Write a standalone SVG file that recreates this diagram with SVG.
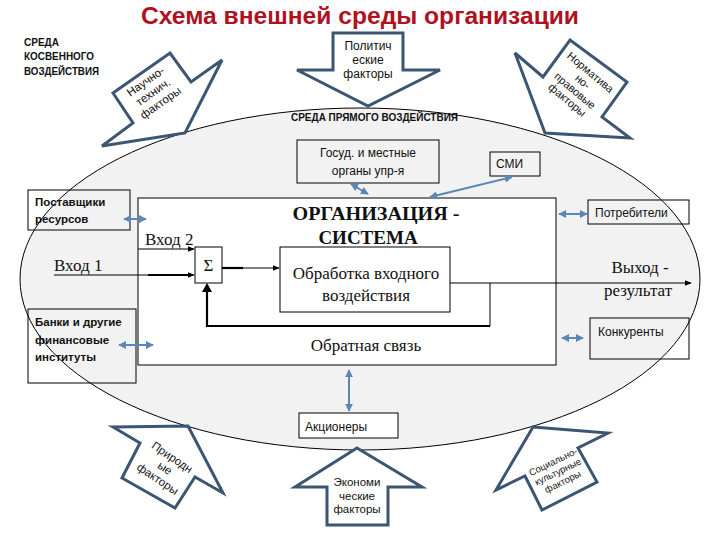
<svg xmlns="http://www.w3.org/2000/svg" width="720" height="540" viewBox="0 0 720 540">
<defs>
<style>
.blk{fill:#fff;stroke:#3b5573;stroke-width:3;stroke-linejoin:miter}
.sans{font-family:"Liberation Sans",Arial,sans-serif;fill:#111}
.bold{font-weight:bold}
.serif{font-family:"Liberation Serif","Times New Roman",serif;fill:#111}
.box{fill:none;stroke:#000;stroke-width:1}
.con{stroke:#5b86b8;stroke-width:2;fill:none;marker-start:url(#ah);marker-end:url(#ah)}
.ln{stroke:#000;stroke-width:1;fill:none}
.thk{stroke:#000;stroke-width:2.2;fill:none}
</style>
<marker id="ah" viewBox="0 0 10 10" refX="9" refY="5" markerWidth="4" markerHeight="4" orient="auto-start-reverse" markerUnits="strokeWidth">
<path d="M0,0 L10,5 L0,10 z" fill="#5b86b8"/>
</marker>
<marker id="bk" viewBox="0 0 10 10" refX="9" refY="5" markerWidth="7" markerHeight="7" orient="auto" markerUnits="userSpaceOnUse">
<path d="M0,1 L10,5 L0,9 z" fill="#000"/>
</marker>
</defs>
<rect width="720" height="540" fill="#fff"/>

<!-- environment ellipse fill -->
<ellipse id="env-fill" cx="360" cy="279" rx="340" ry="171" fill="#f2f2f2"/>

<text x="360" y="24" text-anchor="middle" font-family="Liberation Sans,Arial,sans-serif" font-size="24" font-weight="bold" fill="#b0111f" textLength="438" lengthAdjust="spacingAndGlyphs">Схема внешней среды организации</text>

<g id="indirect-label" class="sans bold" font-size="10">
<text x="24" y="46" textLength="35" lengthAdjust="spacingAndGlyphs">СРЕДА</text>
<text x="24" y="60" textLength="70" lengthAdjust="spacingAndGlyphs">КОСВЕННОГО</text>
<text x="24" y="75" textLength="75" lengthAdjust="spacingAndGlyphs">ВОЗДЕЙСТВИЯ</text>
</g>
<text id="direct-label" class="sans bold" x="291" y="121" font-size="10" textLength="167" lengthAdjust="spacingAndGlyphs">СРЕДА ПРЯМОГО ВОЗДЕЙСТВИЯ</text>

<!-- organization -->
<g id="organization">
<rect x="138" y="198" width="418" height="167" fill="#fff" stroke="#000"/>
<text class="serif bold" x="376" y="220" font-size="19" text-anchor="middle" textLength="167" lengthAdjust="spacingAndGlyphs">ОРГАНИЗАЦИЯ -</text>
<text class="serif bold" x="368" y="244" font-size="19" text-anchor="middle">СИСТЕМА</text>
</g>
<g id="sigma">
<rect x="195" y="247" width="27" height="36" fill="#fff" stroke="#000"/>
<text class="serif" x="208.5" y="271" font-size="17" text-anchor="middle">Σ</text>
</g>
<g id="processing">
<rect x="280" y="247" width="170" height="65" fill="#fff" stroke="#000"/>
<text class="serif" x="366" y="279" font-size="17" text-anchor="middle">Обработка входного</text>
<text class="serif" x="366" y="301" font-size="17" text-anchor="middle">воздействия</text>
</g>
<text id="in2" class="serif" x="145" y="245" font-size="17">Вход 2</text>
<text id="in1" class="serif" x="54" y="271" font-size="17">Вход 1</text>
<text id="feedback" class="serif" x="366" y="351" font-size="17" text-anchor="middle">Обратная связь</text>
<g id="output">
<text class="serif" x="640" y="273" font-size="17" text-anchor="middle">Выход -</text>
<text class="serif" x="638" y="296" font-size="17" text-anchor="middle">результат</text>
</g>

<!-- inner system connectors -->
<g id="flow">
<path class="ln" d="M138,249 H194" marker-end="url(#bk)"/>
<path class="ln" d="M54,275 H148"/>
<path class="thk" d="M148,275 H188"/>
<path class="ln" d="M186,275 H194" marker-end="url(#bk)"/>
<path class="thk" d="M222,268 H243"/>
<path class="ln" d="M243,268 H279" marker-end="url(#bk)"/>
<path class="ln" d="M450,283 H691" marker-end="url(#bk)"/>
<path class="ln" d="M490,283 V326"/>
<path class="thk" d="M490,326 H207 V290"/>
<path d="M202,292 L207,283 L212,292 z" fill="#000"/>
</g>

<!-- environment boxes -->
<g id="gov">
<rect x="297" y="140" width="142" height="43" fill="#f2f2f2" stroke="#000"/>
<text class="sans" x="368" y="157" font-size="12" text-anchor="middle" fill="#222">Госуд. и местные</text>
<text class="sans" x="368" y="175" font-size="12" text-anchor="middle" fill="#222">органы упр-я</text>
</g>
<g id="media">
<rect x="490" y="152" width="50" height="24" fill="#f2f2f2" stroke="#000"/>
<text class="sans" x="496" y="168" font-size="12" fill="#222">СМИ</text>
</g>
<g id="suppliers">
<rect class="box" x="28" y="190" width="102" height="40"/>
<text class="sans bold" x="35" y="206" font-size="11.5">Поставщики</text>
<text class="sans bold" x="35" y="223" font-size="11.5">ресурсов</text>
</g>
<g id="consumers">
<rect class="box" x="588" y="200" width="101" height="24"/>
<text class="sans" x="595" y="217" font-size="12" fill="#222">Потребители</text>
</g>
<g id="competitors">
<rect class="box" x="590" y="318" width="99" height="41"/>
<text class="sans" x="598" y="336" font-size="12" fill="#222">Конкуренты</text>
</g>
<g id="banks">
<rect class="box" x="28" y="309" width="108" height="74"/>
<text class="sans bold" x="35" y="326" font-size="11.5">Банки и другие</text>
<text class="sans bold" x="35" y="344" font-size="11.5">финансовые</text>
<text class="sans bold" x="35" y="361" font-size="11.5">институты</text>
</g>
<g id="shareholders">
<rect x="299" y="413" width="99" height="25" fill="#fff" stroke="#000"/>
<text class="sans" x="305" y="431" font-size="12" fill="#222">Акционеры</text>
</g>

<!-- environment outline -->
<ellipse id="env-line" cx="360" cy="279" rx="340" ry="171" fill="none" stroke="#000" stroke-width="1"/>

<!-- connectors -->
<g id="connectors">
<line class="con" x1="124" y1="219" x2="146" y2="219"/>
<line class="con" x1="351" y1="184" x2="368" y2="194"/>
<line class="con" x1="512" y1="177" x2="430" y2="197"/>
<line class="con" x1="559" y1="214" x2="587" y2="214"/>
<line class="con" x1="562" y1="338" x2="583" y2="338"/>
<line class="con" x1="119" y1="345" x2="153" y2="345"/>
<line class="con" x1="349" y1="370" x2="349" y2="411"/>
</g>

<!-- external factor arrows -->
<g id="political">
<polygon class="blk" points="333,33 403,33 403,70 440,70 368,106 297,70 333,70"/>
<text class="sans" x="368" y="50" font-size="12" text-anchor="middle">Политич</text>
<text class="sans" x="368" y="64" font-size="12" text-anchor="middle">еские</text>
<text class="sans" x="368" y="78" font-size="12" text-anchor="middle">факторы</text>
</g>
<g id="scientific">
<polygon class="blk" points="113,93 170,53 191,82 222,60 185,133 102,146 133,123"/>
<g transform="translate(153,92) rotate(-35)">
<text class="sans" x="0" y="-9" font-size="11.5" text-anchor="middle">Научно-</text>
<text class="sans" x="0" y="4" font-size="11.5" text-anchor="middle">технич.</text>
<text class="sans" x="0" y="17" font-size="11.5" text-anchor="middle">факторы</text>
</g>
</g>
<g id="legal">
<polygon class="blk" points="570,40 627,82 602,117 630,138 545,133 515,53 543,77"/>
<g transform="translate(579,86) rotate(40)">
<text class="sans" x="0" y="-14" font-size="11" text-anchor="middle">Норматива</text>
<text class="sans" x="0" y="-2" font-size="11" text-anchor="middle">но-</text>
<text class="sans" x="0" y="10" font-size="11" text-anchor="middle">правовые</text>
<text class="sans" x="0" y="22" font-size="11" text-anchor="middle">факторы</text>
</g>
</g>
<g id="natural">
<polygon class="blk" points="113,427 188,426 223,493 195,477 175,508 122,478 140,443"/>
<g transform="translate(165,468) rotate(34)">
<text class="sans" x="0" y="-9" font-size="11.5" text-anchor="middle">Природн</text>
<text class="sans" x="0" y="4" font-size="11.5" text-anchor="middle">ые</text>
<text class="sans" x="0" y="17" font-size="11.5" text-anchor="middle">факторы</text>
</g>
</g>
<g id="economic">
<polygon class="blk" points="357,448 422,487 388,487 388,525 327,525 327,487 295,487"/>
<text class="sans" x="357" y="486" font-size="11.5" text-anchor="middle">Экономи</text>
<text class="sans" x="357" y="500" font-size="11.5" text-anchor="middle">ческие</text>
<text class="sans" x="357" y="513" font-size="11.5" text-anchor="middle">факторы</text>
</g>
<g id="social">
<polygon class="blk" points="533,427 608,433 578,448 597,482 542,510 525,476 496,490"/>
<g transform="translate(558,472) rotate(-26)">
<text class="sans" x="0" y="-8" font-size="9.5" text-anchor="middle">Социально-</text>
<text class="sans" x="0" y="3" font-size="9.5" text-anchor="middle">культурные</text>
<text class="sans" x="0" y="14" font-size="9.5" text-anchor="middle">факторы</text>
</g>
</g>
</svg>
